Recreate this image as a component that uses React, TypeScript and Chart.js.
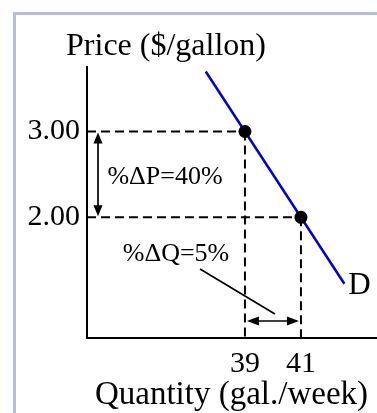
import React, { useEffect, useRef } from "react";
import { Chart, registerables } from "chart.js";

Chart.register(...registerables);

// Two observed points on the demand curve
const QUANTITY_POINTS = [39, 41];
const PRICE_POINTS = [3.0, 2.0];

// Ends of the drawn demand curve D
const DEMAND_Q = [37.6, 42.55];
const DEMAND_P = [3.7, 1.225];

const X_TICKS = [39, 41];
const Y_TICKS = [2, 3];

const PCT_CHANGE_P = 40;
const PCT_CHANGE_Q = 5;

const X_MIN = 33.36;
const X_MAX = 43.68;
const Y_MIN = 0.593;
const Y_MAX = 3.752;

const SERIF = '"Liberation Serif", "Times New Roman", serif';
const FRAME = "#b4c1d5";

function doubleArrow(
  ctx: CanvasRenderingContext2D,
  x1: number,
  y1: number,
  x2: number,
  y2: number,
  head = 11,
  half = 4.5
) {
  const ang = Math.atan2(y2 - y1, x2 - x1);
  const c = Math.cos(ang);
  const s = Math.sin(ang);
  ctx.beginPath();
  ctx.moveTo(x1 + c * head * 0.8, y1 + s * head * 0.8);
  ctx.lineTo(x2 - c * head * 0.8, y2 - s * head * 0.8);
  ctx.stroke();
  const tip = (tx: number, ty: number, dir: number) => {
    const bx = tx - c * head * dir;
    const by = ty - s * head * dir;
    ctx.beginPath();
    ctx.moveTo(tx, ty);
    ctx.lineTo(bx - s * half, by + c * half);
    ctx.lineTo(bx + s * half, by - c * half);
    ctx.closePath();
    ctx.fill();
  };
  tip(x2, y2, 1);
  tip(x1, y1, -1);
}

const elasticityAnnotations = {
  id: "elasticityAnnotations",
  beforeDatasetsDraw(chart: any) {
    const { ctx, chartArea, scales } = chart;
    const x = scales.x;
    const y = scales.y;
    ctx.save();
    ctx.strokeStyle = "#000";
    ctx.lineWidth = 2;
    ctx.setLineDash([9, 5]);
    for (let i = 0; i < QUANTITY_POINTS.length; i++) {
      const px = x.getPixelForValue(QUANTITY_POINTS[i]);
      const py = y.getPixelForValue(PRICE_POINTS[i]);
      ctx.beginPath();
      ctx.moveTo(chartArea.left, py);
      ctx.lineTo(px, py);
      ctx.stroke();
      ctx.beginPath();
      ctx.moveTo(px, py);
      ctx.lineTo(px, chartArea.bottom);
      ctx.stroke();
    }
    ctx.restore();
  },
  afterDatasetsDraw(chart: any) {
    const { ctx, chartArea, scales } = chart;
    const x = scales.x;
    const y = scales.y;
    const pHigh = y.getPixelForValue(PRICE_POINTS[0]);
    const pLow = y.getPixelForValue(PRICE_POINTS[1]);
    const qLow = x.getPixelForValue(QUANTITY_POINTS[0]);
    const qHigh = x.getPixelForValue(QUANTITY_POINTS[1]);

    ctx.save();
    ctx.strokeStyle = "#000";
    ctx.fillStyle = "#000";
    ctx.lineWidth = 1.7;
    ctx.setLineDash([]);

    // price change arrow beside the y axis
    const ax = chartArea.left + 11;
    doubleArrow(ctx, ax, pHigh + 1, ax, pLow - 1, 11, 4.5);

    // quantity change arrow above the x axis
    const ay = chartArea.bottom - 17;
    doubleArrow(ctx, qLow + 2, ay, qHigh - 2, ay, 12, 4.5);

    // leader from the quantity label to its arrow
    const mid = (qLow + qHigh) / 2;
    ctx.beginPath();
    ctx.moveTo(chartArea.left + 113, chartArea.bottom - 69);
    ctx.lineTo(mid + 2, ay - 7);
    ctx.stroke();

    ctx.font = `26px ${SERIF}`;
    ctx.textAlign = "center";
    ctx.textBaseline = "alphabetic";
    ctx.fillText(`%ΔP=${PCT_CHANGE_P}%`, chartArea.left + 78, (pHigh + pLow) / 2 + 10);
    ctx.fillText(`%ΔQ=${PCT_CHANGE_Q}%`, chartArea.left + 89, pLow + 44);

    // demand curve label
    const endX = x.getPixelForValue(DEMAND_Q[1]);
    const endY = y.getPixelForValue(DEMAND_P[1]);
    ctx.font = `31px ${SERIF}`;
    ctx.textAlign = "left";
    ctx.fillText("D", endX + 4, endY + 10);

    // vertical axis caption, set horizontally above the axis
    ctx.font = `32px ${SERIF}`;
    ctx.textAlign = "center";
    ctx.fillText("Price ($/gallon)", chartArea.left + 79, chartArea.top - 12);
    ctx.restore();
  },
};

export default function App() {
  const canvasRef = useRef<HTMLCanvasElement | null>(null);

  useEffect(() => {
    const canvas = canvasRef.current;
    if (!canvas) return;
    const chart = new Chart(canvas, {
      type: "scatter",
      data: {
        datasets: [
          {
            label: "Observations",
            data: QUANTITY_POINTS.map((q, i) => ({ x: q, y: PRICE_POINTS[i] })),
            backgroundColor: "#000",
            borderWidth: 0,
            pointRadius: 6.5,
            showLine: false,
          },
          {
            label: "D",
            data: DEMAND_Q.map((q, i) => ({ x: q, y: DEMAND_P[i] })),
            borderColor: "#0000cc",
            borderWidth: 2.5,
            pointRadius: 0,
            showLine: true,
          },
        ],
      },
      options: {
        responsive: false,
        animation: false,
        layout: {
          autoPadding: false,
          padding: { top: 67, right: 1, left: 0, bottom: 0 },
        },
        plugins: {
          legend: { display: false },
          tooltip: { enabled: false },
          title: { display: false },
        },
        scales: {
          x: {
            type: "linear",
            min: X_MIN,
            max: X_MAX,
            afterBuildTicks: (s: any) => {
              s.ticks = X_TICKS.map((v) => ({ value: v }));
            },
            afterFit: (s: any) => {
              s.height = 75;
            },
            grid: { display: false, drawTicks: false },
            border: { display: true, color: "#000", width: 2 },
            ticks: {
              color: "#000",
              padding: 8,
              font: { family: SERIF, size: 30 },
              callback: (v: any) => String(v),
            },
            title: {
              display: true,
              text: "Quantity (gal./week)",
              color: "#000",
              font: { family: SERIF, size: 33, lineHeight: 1.1 },
              padding: { top: 0, bottom: 0 },
            },
          },
          y: {
            type: "linear",
            min: Y_MIN,
            max: Y_MAX,
            afterBuildTicks: (s: any) => {
              s.ticks = Y_TICKS.map((v) => ({ value: v }));
            },
            afterFit: (s: any) => {
              s.width = 87;
            },
            grid: { display: false, drawTicks: false },
            border: { display: true, color: "#000", width: 2 },
            ticks: {
              color: "#000",
              padding: 7,
              font: { family: SERIF, size: 30 },
              callback: (v: any) => Number(v).toFixed(2),
            },
          },
        },
      },
      plugins: [elasticityAnnotations],
    });
    return () => chart.destroy();
  }, []);

  return (
    <div
      style={{
        position: "fixed",
        left: 0,
        top: 0,
        width: 377,
        height: 413,
        background: "#fff",
        overflow: "hidden",
      }}
    >
      <div
        style={{
          position: "absolute",
          left: 13,
          top: 12,
          right: 0,
          bottom: 0,
          borderLeft: `3px solid ${FRAME}`,
          borderTop: `3px solid ${FRAME}`,
        }}
      />
      <canvas
        ref={canvasRef}
        width={377}
        height={413}
        style={{ position: "absolute", left: 0, top: 0 }}
      />
    </div>
  );
}
